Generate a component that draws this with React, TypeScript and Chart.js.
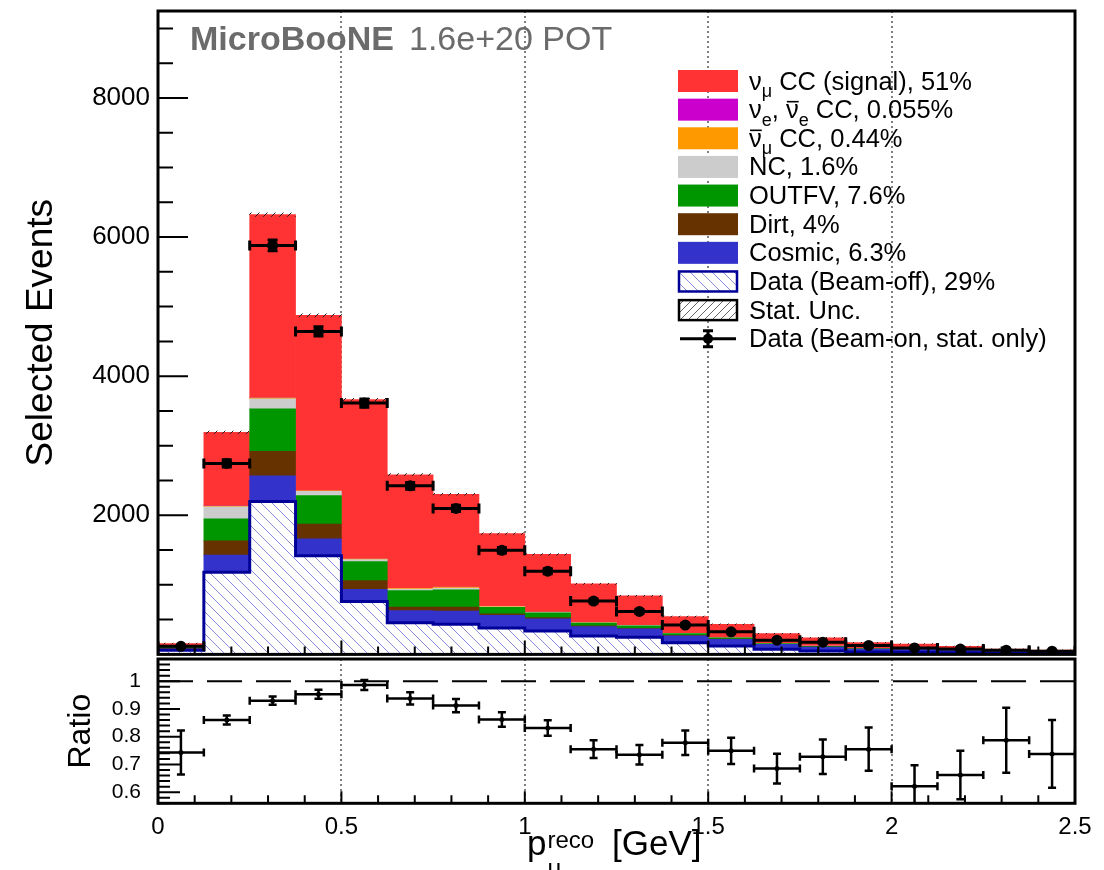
import React, { useEffect, useRef } from 'react';
import { Chart, registerables } from 'chart.js';

Chart.register(...registerables);

const FONT = '"Liberation Sans", Arial, Helvetica, sans-serif';

// ---------------- data ----------------
const binCenters = [0.0625, 0.1875, 0.3125, 0.4375, 0.5625, 0.6875, 0.8125, 0.9375, 1.0625, 1.1875,
  1.3125, 1.4375, 1.5625, 1.6875, 1.8125, 1.9375, 2.0625, 2.1875, 2.3125, 2.4375];
const binHalfWidth = 0.0625;

// stacked components, bottom -> top
const beamOff = [60, 1182, 2199, 1417, 759, 456, 432, 379, 335, 265, 246, 168, 121, 73, 50, 35, 30, 22, 14, 12];
const cosmic = [18, 245, 370, 245, 178, 173, 191, 182, 176, 135, 120, 100, 95, 70, 55, 40, 38, 32, 24, 20];
const dirt = [10, 206, 350, 211, 124, 50, 57, 24, 17, 9, 10, 7, 5, 3, 2, 2, 2, 1, 1, 1];
const outfv = [20, 317, 610, 412, 274, 240, 250, 90, 70, 40, 36, 24, 16, 11, 9, 6, 5, 4, 3, 2];
const nc = [5, 170, 145, 60, 28, 20, 25, 10, 8, 5, 5, 4, 2, 2, 2, 1, 1, 1, 1, 0];
const numubarCC = [1, 14, 15, 10, 10, 10, 12, 5, 3, 2, 2, 1, 1, 1, 1, 1, 0, 0, 0, 0];
const nueCC = [0, 3, 3, 2, 1, 1, 1, 1, 0, 0, 0, 0, 0, 0, 0, 0, 0, 0, 0, 0];
const numuCC = [42, 1055, 2631, 2516, 2290, 1633, 1334, 1046, 830, 558, 422, 239, 193, 138, 121, 84, 74, 56, 35, 28];
const mcStatErr = [5, 18, 25, 22, 18, 15, 14, 12, 11, 9, 8, 7, 6, 5, 5, 4, 4, 3, 3, 3];

// beam-on data
const dataOn = [116, 2745, 5880, 4644, 3613, 2423, 2099, 1497, 1196, 766, 618, 422, 324, 204, 175, 128, 93, 77, 61, 46];
const dataErr = [11, 52, 77, 68, 60, 49, 46, 39, 35, 28, 25, 21, 18, 14, 13, 11, 10, 9, 8, 7];

// ratio panel
const ratio = [0.743, 0.86, 0.93, 0.953, 0.986, 0.938, 0.912, 0.862, 0.831, 0.755, 0.735, 0.778, 0.749, 0.685,
  0.728, 0.755, 0.621, 0.662, 0.787, 0.738];
const ratioErr = [0.079, 0.016, 0.015, 0.016, 0.018, 0.022, 0.024, 0.026, 0.028, 0.032, 0.035, 0.044, 0.047,
  0.054, 0.062, 0.078, 0.076, 0.087, 0.117, 0.122];

// tick labels
const xTickLabels = ['0', '0.5', '1', '1.5', '2', '2.5'];
const countTickLabels = ['2000', '4000', '6000', '8000'];
const ratioTickLabels = ['0.6', '0.7', '0.8', '0.9', '1'];

// ---------------- styles ----------------
const RED = '#ff3333';
const MAGENTA = '#cc00cc';
const ORANGE = '#ff9900';
const GRAY = '#cccccc';
const GREEN = '#009600';
const BROWN = '#663300';
const BLUE = '#3333cc';
const NAVY = '#000099';

type Part = { t: string; sub?: boolean; bar?: boolean };

const legendEntries: { parts: Part[]; kind: string; color?: string }[] = [
  { parts: [{ t: 'ν' }, { t: 'μ', sub: true }, { t: ' CC (signal), 51%' }], kind: 'fill', color: RED },
  { parts: [{ t: 'ν' }, { t: 'e', sub: true }, { t: ', ' }, { t: 'ν', bar: true }, { t: 'e', sub: true }, { t: ' CC, 0.055%' }], kind: 'fill', color: MAGENTA },
  { parts: [{ t: 'ν', bar: true }, { t: 'μ', sub: true }, { t: ' CC, 0.44%' }], kind: 'fill', color: ORANGE },
  { parts: [{ t: 'NC, 1.6%' }], kind: 'fill', color: GRAY },
  { parts: [{ t: 'OUTFV, 7.6%' }], kind: 'fill', color: GREEN },
  { parts: [{ t: 'Dirt, 4%' }], kind: 'fill', color: BROWN },
  { parts: [{ t: 'Cosmic, 6.3%' }], kind: 'fill', color: BLUE },
  { parts: [{ t: 'Data (Beam-off), 29%' }], kind: 'beamoff' },
  { parts: [{ t: 'Stat. Unc.' }], kind: 'stat' },
  { parts: [{ t: 'Data (Beam-on, stat. only)' }], kind: 'data' },
];

function makeHatch(ctx: CanvasRenderingContext2D, size: number, color: string, dir: 'back' | 'fwd', bg: string | null, lw: number) {
  const c = document.createElement('canvas');
  c.width = size;
  c.height = size;
  const g = c.getContext('2d')!;
  if (bg) {
    g.fillStyle = bg;
    g.fillRect(0, 0, size, size);
  }
  g.strokeStyle = color;
  g.lineWidth = lw;
  g.beginPath();
  for (const k of [-size, 0, size]) {
    if (dir === 'back') {
      g.moveTo(k, 0);
      g.lineTo(k + size, size);
    } else {
      g.moveTo(k, size);
      g.lineTo(k + size, 0);
    }
  }
  g.stroke();
  return ctx.createPattern(c, 'repeat')!;
}

function drawRich(ctx: CanvasRenderingContext2D, parts: Part[], x: number, y: number, size: number) {
  let cx = x;
  for (const p of parts) {
    const fs = p.sub ? Math.round(size * 0.7) : size;
    ctx.font = `${fs}px ${FONT}`;
    const dy = p.sub ? size * 0.3 : 0;
    ctx.fillText(p.t, cx, y + dy);
    const w = ctx.measureText(p.t).width;
    if (p.bar) ctx.fillRect(cx + 1, y - size * 0.52 - 4, w - 1, 1.6);
    cx += w;
  }
}

const errBarsPlugin = {
  id: 'errBars',
  afterDatasetsDraw(chart: any, _args: any, opts: any) {
    const { ctx, chartArea: a, scales } = chart;
    const xs = scales.x;
    const ys = scales.y;
    ctx.save();
    ctx.beginPath();
    ctx.rect(a.left, a.top, a.right - a.left, a.bottom - a.top);
    ctx.clip();
    ctx.strokeStyle = '#000';
    ctx.lineWidth = opts.lineWidth;
    chart.data.datasets.forEach((ds: any) => {
      if (!ds.errY) return;
      ds.data.forEach((pt: any, i: number) => {
        const px = xs.getPixelForValue(pt.x);
        const pl = xs.getPixelForValue(pt.x - binHalfWidth);
        const pr = xs.getPixelForValue(pt.x + binHalfWidth);
        const py = ys.getPixelForValue(pt.y);
        const pu = ys.getPixelForValue(pt.y + ds.errY[i]);
        const pd = ys.getPixelForValue(pt.y - ds.errY[i]);
        ctx.beginPath();
        ctx.moveTo(pl, py);
        ctx.lineTo(pr, py);
        ctx.moveTo(pl, py - opts.cap);
        ctx.lineTo(pl, py + opts.cap);
        ctx.moveTo(pr, py - opts.cap);
        ctx.lineTo(pr, py + opts.cap);
        ctx.moveTo(px, pu);
        ctx.lineTo(px, pd);
        ctx.moveTo(px - opts.cap, pu);
        ctx.lineTo(px + opts.cap, pu);
        ctx.moveTo(px - opts.cap, pd);
        ctx.lineTo(px + opts.cap, pd);
        ctx.stroke();
      });
    });
    ctx.restore();
  },
};

function drawGrid(chart: any) {
  const { ctx, chartArea: a, scales } = chart;
  ctx.save();
  ctx.strokeStyle = '#555';
  ctx.lineWidth = 1.5;
  ctx.setLineDash([2, 3]);
  for (let k = 1; k < xTickLabels.length - 1; k++) {
    const px = Math.round(scales.x.getPixelForValue(Number(xTickLabels[k])));
    ctx.beginPath();
    ctx.moveTo(px, a.top);
    ctx.lineTo(px, a.bottom);
    ctx.stroke();
  }
  ctx.restore();
}

function drawFrameAndTicks(chart: any, o: any) {
  const { ctx, chartArea: a, scales } = chart;
  ctx.save();
  ctx.strokeStyle = '#000';
  ctx.lineWidth = 2;
  ctx.beginPath();
  for (let k = o.yK0; k <= o.yK1; k++) {
    const v = k * o.yMinor;
    if (v < scales.y.min || v > scales.y.max) continue;
    const py = scales.y.getPixelForValue(v);
    const len = k % o.yEvery === 0 ? o.yMajorLen : o.yMinorLen;
    ctx.moveTo(a.left, py);
    ctx.lineTo(a.left + len, py);
  }
  for (let k = 1; k < 25; k++) {
    const px = scales.x.getPixelForValue(k * 0.1);
    const len = k % 5 === 0 ? o.xMajorLen : o.xMinorLen;
    ctx.moveTo(px, a.bottom);
    ctx.lineTo(px, a.bottom - len);
  }
  ctx.stroke();
  ctx.lineWidth = 3;
  ctx.strokeRect(a.left, a.top, a.right - a.left, a.bottom - a.top);
  ctx.restore();
}

function makeTopDecor(pats: { legendBeamOff: CanvasPattern; legendStat: CanvasPattern }) {
  return {
    id: 'topDecor',
    beforeDatasetsDraw(chart: any) {
      drawGrid(chart);
    },
    afterDraw(chart: any) {
      const { ctx } = chart;
      drawFrameAndTicks(chart, { yK0: 1, yK1: 18, yMinor: 500, yEvery: 4, yMajorLen: 30, yMinorLen: 15, xMajorLen: 14, xMinorLen: 8 });
      ctx.save();
      ctx.fillStyle = '#6b6b6b';
      ctx.textBaseline = 'alphabetic';
      ctx.font = `bold 34px ${FONT}`;
      ctx.fillText('MicroBooNE', 190, 50);
      ctx.font = `34px ${FONT}`;
      ctx.fillText('1.6e+20 POT', 409, 50);
      ctx.restore();
      ctx.save();
      legendEntries.forEach((e, i) => {
        const cy = 81 + 28.64 * i;
        const bx = 678, bw = 60, bh = 22;
        if (e.kind === 'fill') {
          ctx.fillStyle = e.color!;
          ctx.fillRect(bx, cy - bh / 2, bw, bh);
        } else if (e.kind === 'beamoff') {
          ctx.fillStyle = pats.legendBeamOff;
          ctx.fillRect(bx, cy - bh / 2, bw, bh);
          ctx.strokeStyle = NAVY;
          ctx.lineWidth = 2.5;
          ctx.strokeRect(bx + 1, cy - bh / 2 + 1, bw - 2, bh - 2);
        } else if (e.kind === 'stat') {
          ctx.fillStyle = pats.legendStat;
          ctx.fillRect(bx, cy - bh / 2, bw, bh);
          ctx.strokeStyle = '#000';
          ctx.lineWidth = 2.5;
          ctx.strokeRect(bx + 1, cy - bh / 2 + 1, bw - 2, bh - 2);
        } else {
          ctx.strokeStyle = '#000';
          ctx.fillStyle = '#000';
          ctx.lineWidth = 3;
          const mx = bx + bw / 2;
          ctx.beginPath();
          ctx.moveTo(bx + 2, cy);
          ctx.lineTo(bx + bw - 2, cy);
          ctx.moveTo(mx, cy - 8);
          ctx.lineTo(mx, cy + 8);
          ctx.moveTo(mx - 5, cy - 8);
          ctx.lineTo(mx + 5, cy - 8);
          ctx.moveTo(mx - 5, cy + 8);
          ctx.lineTo(mx + 5, cy + 8);
          ctx.stroke();
          ctx.beginPath();
          ctx.arc(mx, cy, 5, 0, Math.PI * 2);
          ctx.fill();
        }
        ctx.fillStyle = '#000';
        drawRich(ctx, e.parts, 749, cy + 8.5, 25.5);
      });
      ctx.restore();
    },
  };
}

const ratioDecor = {
  id: 'ratioDecor',
  beforeDatasetsDraw(chart: any) {
    drawGrid(chart);
  },
  afterDraw(chart: any) {
    const { ctx } = chart;
    drawFrameAndTicks(chart, { yK0: 28, yK1: 54, yMinor: 0.02, yEvery: 5, yMajorLen: 22, yMinorLen: 12, xMajorLen: 12, xMinorLen: 8 });
    ctx.save();
    ctx.fillStyle = '#000';
    ctx.textBaseline = 'alphabetic';
    ctx.font = `35px ${FONT}`;
    ctx.fillText('p', 527, 200);
    const pw = ctx.measureText('p').width;
    ctx.font = `24px ${FONT}`;
    ctx.fillText('reco', 527 + pw + 1, 193);
    ctx.fillText('μ', 527 + pw + 1, 221);
    ctx.font = `35px ${FONT}`;
    ctx.fillText('[GeV]', 612, 200);
    ctx.restore();
  },
};

export default function App() {
  const topRef = useRef<HTMLCanvasElement>(null);
  const ratioRef = useRef<HTMLCanvasElement>(null);

  useEffect(() => {
    const tc = topRef.current!;
    const rc = ratioRef.current!;
    const tctx = tc.getContext('2d')!;

    const beamOffPattern = makeHatch(tctx, 11, '#8a8ada', 'back', '#ffffff', 1);
    const statPattern = makeHatch(tctx, 8, '#222222', 'fwd', null, 1);
    const legendStat = makeHatch(tctx, 8, '#666666', 'fwd', '#ffffff', 1);

    const layers = [
      { label: 'Data (Beam-off)', values: beamOff, fill: beamOffPattern as any },
      { label: 'Cosmic', values: cosmic, fill: BLUE },
      { label: 'Dirt', values: dirt, fill: BROWN },
      { label: 'OUTFV', values: outfv, fill: GREEN },
      { label: 'NC', values: nc, fill: GRAY },
      { label: 'numubar CC', values: numubarCC, fill: ORANGE },
      { label: 'nue CC', values: nueCC, fill: MAGENTA },
      { label: 'numu CC', values: numuCC, fill: RED },
    ];
    let cum = binCenters.map(() => 0);
    const barSets: any[] = layers.map((L, k) => {
      const lo = cum.slice();
      cum = cum.map((c, i) => c + L.values[i]);
      const hi = cum.slice();
      return {
        type: 'bar',
        label: L.label,
        data: binCenters.map((x, i) => ({ x, y: [lo[i], hi[i]] })),
        backgroundColor: L.fill,
        borderWidth: 0,
        grouped: false,
        barPercentage: 1,
        categoryPercentage: 1,
        order: 20 + k,
      };
    });
    const total = cum;

    const statSet = {
      type: 'bar',
      label: 'Stat. Unc.',
      data: binCenters.map((x, i) => ({ x, y: [total[i] - mcStatErr[i], total[i] + mcStatErr[i]] })),
      backgroundColor: statPattern,
      borderWidth: 0,
      grouped: false,
      barPercentage: 1,
      categoryPercentage: 1,
      order: 5,
    };

    // step outline of the beam-off histogram: points at bin low edges
    const outline: { x: number; y: number }[] = [{ x: binCenters[0] - binHalfWidth, y: 0 }];
    binCenters.forEach((x, i) => outline.push({ x: x - binHalfWidth, y: beamOff[i] }));
    const last = binCenters.length - 1;
    outline.push({ x: binCenters[last] + binHalfWidth, y: beamOff[last] });
    outline.push({ x: binCenters[last] + binHalfWidth, y: 0 });

    const outlineSet = {
      type: 'line',
      label: 'beam-off outline',
      data: outline,
      stepped: 'before',
      borderColor: NAVY,
      borderWidth: 3,
      pointRadius: 0,
      fill: false,
      order: 3,
    };

    const dataSet = {
      type: 'line',
      label: 'Data (Beam-on, stat. only)',
      data: binCenters.map((x, i) => ({ x, y: dataOn[i] })),
      showLine: false,
      pointRadius: 5.5,
      pointBackgroundColor: '#000',
      pointBorderColor: '#000',
      pointBorderWidth: 0,
      errY: dataErr,
      order: 0,
    };

    const top = new Chart(tc, {
      type: 'bar',
      data: { datasets: [...barSets, statSet, outlineSet, dataSet] as any },
      options: {
        responsive: false,
        animation: false,
        devicePixelRatio: 1,
        events: [],
        layout: { padding: { top: 11, right: 29, bottom: 5.6, left: 0 } },
        plugins: {
          legend: { display: false },
          tooltip: { enabled: false },
          errBars: { lineWidth: 3, cap: 5 },
        } as any,
        scales: {
          x: { type: 'linear', display: false, min: 0, max: 2.5, offset: false },
          y: {
            type: 'linear',
            min: 0,
            max: 9250,
            afterBuildTicks: (s: any) => {
              s.ticks = countTickLabels.map((l) => ({ value: Number(l) }));
            },
            ticks: {
              autoSkip: false,
              font: { size: 26, family: FONT },
              color: '#000',
              padding: 0,
              callback: (v: any) => {
                const n = Math.round(Number(v));
                return countTickLabels.includes(String(n)) ? String(n) : '';
              },
            },
            grid: { display: false },
            border: { display: false },
            title: {
              display: true,
              text: 'Selected Events',
              font: { size: 37, family: FONT },
              color: '#000',
              padding: { top: 20, bottom: 0 },
            },
            afterFit: (s: any) => {
              s.width = 158;
              s.paddingTop = 0;
              s.paddingBottom = 0;
            },
          },
        } as any,
      },
      plugins: [makeTopDecor({ legendBeamOff: beamOffPattern, legendStat }), errBarsPlugin],
    });

    const ratioChart = new Chart(rc, {
      type: 'line',
      data: {
        datasets: [
          {
            type: 'line',
            label: 'unity',
            data: [{ x: 0, y: 1 }, { x: 2.5, y: 1 }],
            borderColor: '#000',
            borderWidth: 2,
            borderDash: [35, 14],
            pointRadius: 0,
            order: 5,
          },
          {
            type: 'line',
            label: 'Ratio',
            data: binCenters.map((x, i) => ({ x, y: ratio[i] })),
            showLine: false,
            pointRadius: 2.5,
            pointBackgroundColor: '#000',
            pointBorderColor: '#000',
            pointBorderWidth: 0,
            errY: ratioErr,
            order: 0,
          },
        ] as any,
      },
      options: {
        responsive: false,
        animation: false,
        devicePixelRatio: 1,
        events: [],
        layout: { padding: { top: 1, right: 29, bottom: 0, left: 0 } },
        plugins: {
          legend: { display: false },
          tooltip: { enabled: false },
          errBars: { lineWidth: 2.5, cap: 4 },
        } as any,
        scales: {
          x: {
            type: 'linear',
            min: 0,
            max: 2.5,
            offset: false,
            afterBuildTicks: (s: any) => {
              s.ticks = xTickLabels.map((l) => ({ value: Number(l) }));
            },
            ticks: {
              autoSkip: false,
              maxRotation: 0,
              font: { size: 24, family: FONT },
              color: '#000',
              padding: 2,
              callback: (v: any) => xTickLabels.find((l) => Math.abs(Number(l) - Number(v)) < 1e-6) ?? '',
            },
            grid: { display: false },
            border: { display: false },
            afterFit: (s: any) => {
              s.height = 66.7;
              s.paddingLeft = 0;
              s.paddingRight = 0;
            },
          },
          y: {
            type: 'linear',
            min: 0.56,
            max: 1.08,
            afterBuildTicks: (s: any) => {
              s.ticks = ratioTickLabels.map((l) => ({ value: Number(l) }));
            },
            ticks: {
              autoSkip: false,
              font: { size: 21, family: FONT },
              color: '#000',
              padding: 9,
              callback: (v: any) => ratioTickLabels.find((l) => Math.abs(Number(l) - Number(v)) < 1e-6) ?? '',
            },
            grid: { display: false },
            border: { display: false },
            title: {
              display: true,
              text: 'Ratio',
              font: { size: 32, family: FONT },
              color: '#000',
              padding: { top: 62, bottom: 0 },
            },
            afterFit: (s: any) => {
              s.width = 158;
              s.paddingTop = 0;
              s.paddingBottom = 0;
            },
          },
        } as any,
      },
      plugins: [ratioDecor, errBarsPlugin],
    });

    return () => {
      top.destroy();
      ratioChart.destroy();
    };
  }, []);

  return (
    <div style={{ position: 'absolute', left: 0, top: 0, width: 1104, height: 870, background: '#fff', overflow: 'hidden' }}>
      <canvas ref={topRef} width={1104} height={660} style={{ position: 'absolute', left: 0, top: 0, display: 'block' }} />
      <canvas ref={ratioRef} width={1104} height={215} style={{ position: 'absolute', left: 0, top: 655, display: 'block' }} />
    </div>
  );
}
